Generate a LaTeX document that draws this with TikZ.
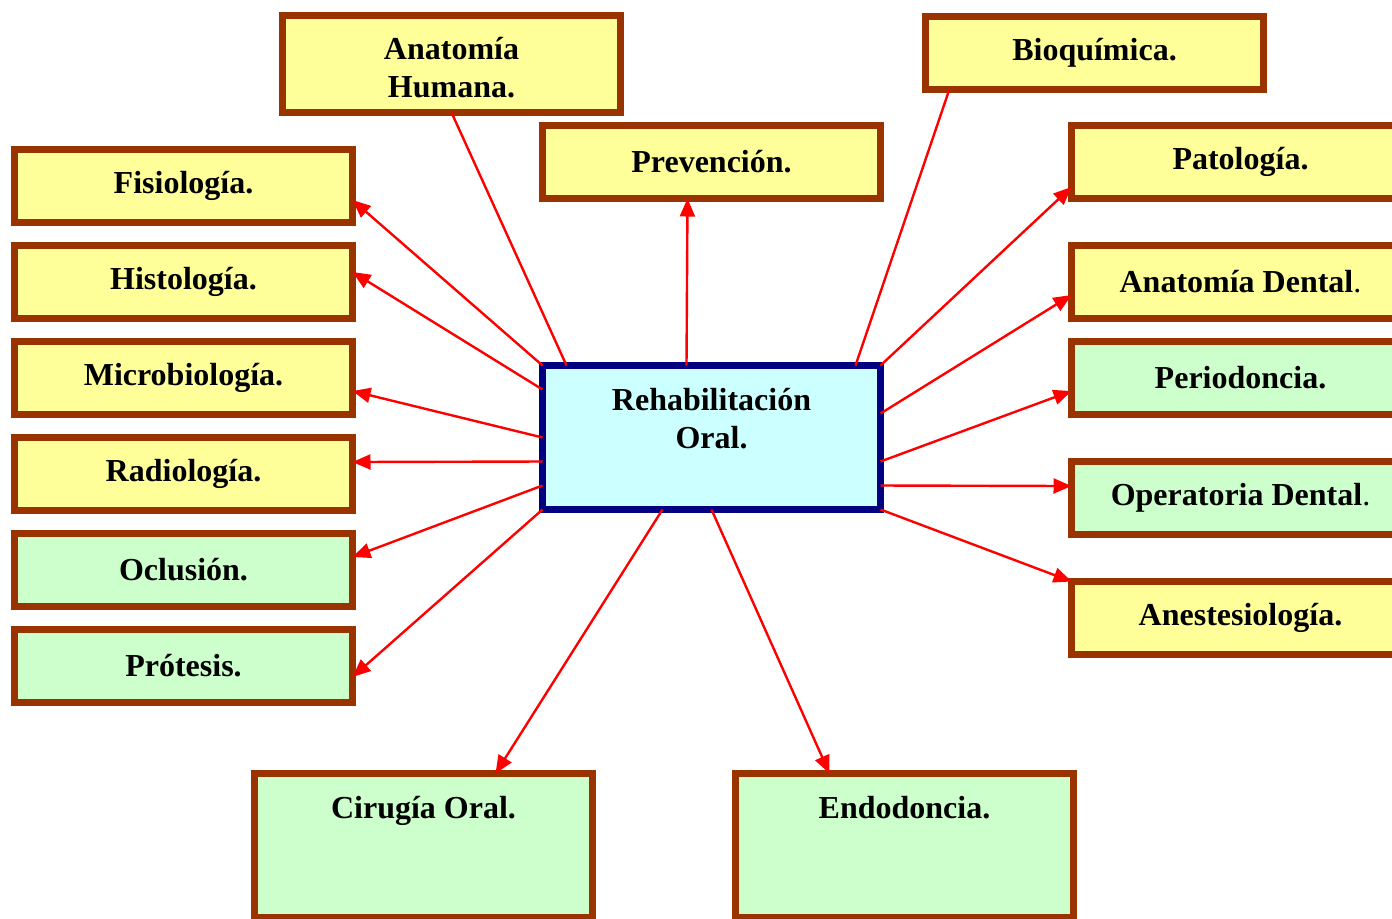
\documentclass[tikz,border=0pt]{standalone}
\usepackage{fontspec}
\setmainfont{Liberation Serif}
\usepackage{tikz}
\usetikzlibrary{arrows.meta}
\usetikzlibrary{calc}
\definecolor{brownline}{HTML}{993300}
\definecolor{navyline}{HTML}{000080}
\definecolor{paleyellow}{HTML}{FFFF99}
\definecolor{palegreen}{HTML}{CCFFCC}
\definecolor{palecyan}{HTML}{CCFFFF}
\tikzset{
box/.style={ % Sets the properties for each subject box
rectangle,
draw=brownline,
line width=3.5pt,
inner sep=0pt,
outer sep=0pt,
minimum width=169pt,
minimum height=36.5pt,
align=center,
font=\bfseries\fontsize{16}{19}\selectfont},
yellowbox/.style={box, fill=paleyellow},
greenbox/.style={box, fill=palegreen},
tallbox/.style={text height=22.5pt, text depth=49.5pt}, % Text at the top of the box
centerbox/.style={box, text height=41.5pt, text depth=30.5pt, draw=navyline, fill=palecyan},
link/.style={ % Sets the properties for each connector
draw=red,
line width=1.2pt,
-{Triangle[length=9pt,width=7.5pt]}},
plainlink/.style={draw=red, line width=1.2pt}}

\begin{document}
\begin{tikzpicture}[x=0.5pt,y=-0.5pt]
	\useasboundingbox (0,0) rectangle (1392,918);
	\clip (0,0) rectangle (1392,918);
	\node[centerbox] (rho) at (711.5,437.5) {Rehabilitación\\Oral.};
	\node[yellowbox] (fis) at (183.5,186) {Fisiología.};
	\node[yellowbox] (his) at (183.5,282) {Histología.};
	\node[yellowbox] (mic) at (183.5,378) {Microbiología.};
	\node[yellowbox] (rad) at (183.5,474) {Radiología.};
	\node[greenbox] (ocl) at (183.5,570) {Oclusión.};
	\node[greenbox] (pro) at (183.5,666) {Prótesis.};
	\node[yellowbox, text height=40.75pt, text depth=7.75pt] (anh) at (451.5,64) {Anatomía\\Humana.};
	\node[yellowbox] (pre) at (711.5,162) {Prevención.};
	\node[yellowbox] (bio) at (1094.5,52.5) {Bioquímica.};
	\node[yellowbox] (pat) at (1240.5,162) {Patología.};
	\node[yellowbox] (ade) at (1240.5,282) {Anatomía Dental{\mdseries .}};
	\node[greenbox] (per) at (1240.5,378) {Periodoncia.};
	\node[greenbox] (ope) at (1240.5,498) {Operatoria Dental{\mdseries .}};
	\node[yellowbox] (ane) at (1240.5,618) {Anestesiología.};
	\node[greenbox, tallbox] (cir) at (423.5,845.5) {Cirugía Oral.};
	\node[greenbox, tallbox] (endo) at (904.5,845.5) {Endodoncia.};
	% left side
	\draw[link] (rho.north west) -- ($(fis.east)+(0,14)$);
	\draw[link] ($(rho.north west)!1/6!(rho.south west)$) -- ($(his.east)+(0,-10)$);
	\draw[link] (rho.west) -- ($(mic.east)+(0,13)$);
	\draw[link] ($(rho.north west)!4/6!(rho.south west)$) -- ($(rad.east)+(0,-12)$);
	\draw[link] ($(rho.north west)!5/6!(rho.south west)$) -- ($(ocl.east)+(0,-13)$);
	\draw[link] (rho.south west) -- ($(pro.east)+(0,11)$);
	% top
	\draw[plainlink] ($(rho.north west)+(24,0)$) -- (anh.south);
	\draw[link] ($(rho.north west)+(144,0)$) -- ($(pre.south)+(-24,0)$);
	\draw[plainlink] ($(rho.north west)+(313,0)$) -- ($(bio.south west)+(24,0)$);
	% right side
	\draw[link] (rho.north east) -- ($(pat.west)+(0,25)$);
	\draw[link] ($(rho.north east)!2/6!(rho.south east)$) -- ($(ade.west)+(0,13)$);
	\draw[link] ($(rho.north east)!4/6!(rho.south east)$) -- ($(per.west)+(0,13)$);
	\draw[link] ($(rho.north east)!5/6!(rho.south east)$) -- ($(ope.west)+(0,-12)$);
	\draw[link] (rho.south east) -- (ane.north west);
	% bottom
	\draw[link] ($(rho.south west)+(120,0)$) -- ($(cir.north)+(72,0)$);
	\draw[link] (rho.south) -- ($(endo.north)+(-75,0)$);
\end{tikzpicture}
\end{document}
